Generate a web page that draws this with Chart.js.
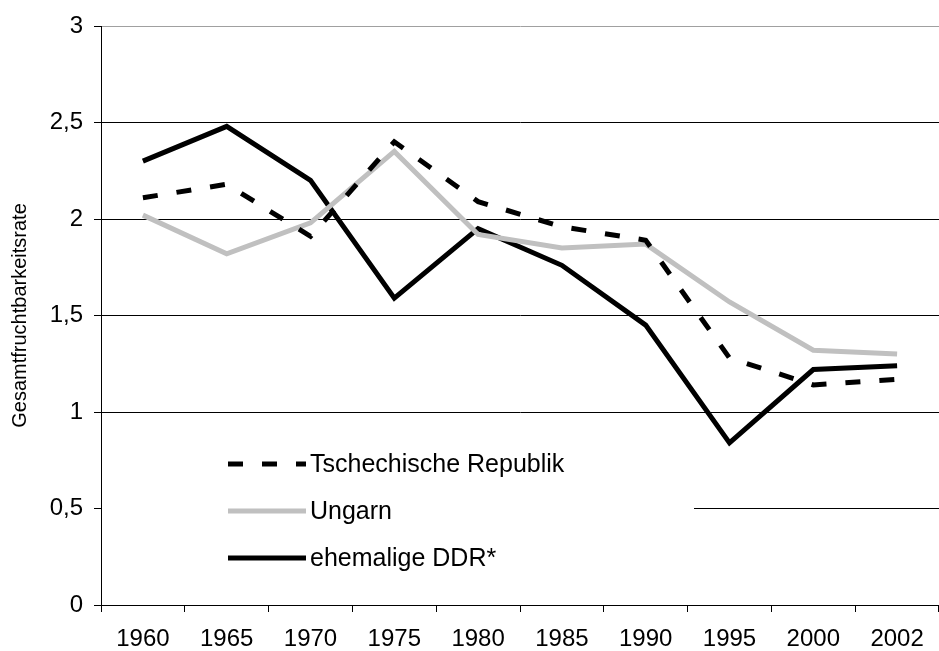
<!DOCTYPE html>
<html lang="de">
<head>
<meta charset="UTF-8">
<title>Gesamtfruchtbarkeitsrate</title>
<script src="https://cdn.jsdelivr.net/npm/chart.js"></script>
<style>
  body { margin: 0; background: #fff; }
</style>
</head>
<body>
<canvas id="grafik" width="939" height="651"></canvas>
<script>
const jahre = ["1960","1965","1970","1975","1980","1985","1990","1995","2000","2002"];
const tschechien = [2.11, 2.18, 1.91, 2.40, 2.09, 1.96, 1.89, 1.28, 1.14, 1.17];
const ungarn = [2.02, 1.82, 1.98, 2.35, 1.92, 1.85, 1.87, 1.57, 1.32, 1.30];
const ddr = [2.30, 2.48, 2.20, 1.59, 1.95, 1.76, 1.45, 0.84, 1.22, 1.24];
const yTicks = [0, 0.5, 1, 1.5, 2, 2.5, 3];

const FONT = "'Liberation Sans', Arial, sans-serif";

// Legende innerhalb der Zeichenfläche, mit weißem Hintergrund
const legendeInnen = {
  id: 'legendeInnen',
  beforeDatasetsDraw(chart) {
    const c = chart.ctx;
    c.save();
    c.fillStyle = '#fff';
    c.fillRect(102, 449, 592, 140);
    chart.data.datasets.forEach((ds, i) => {
      const y = 464 + i * 47;
      c.beginPath();
      c.strokeStyle = ds.borderColor;
      c.lineWidth = ds.borderWidth;
      c.setLineDash(ds.borderDash || []);
      c.moveTo(228, y);
      c.lineTo(306, y);
      c.stroke();
      c.setLineDash([]);
      c.fillStyle = '#000';
      c.font = '25px ' + FONT;
      c.textBaseline = 'middle';
      c.textAlign = 'left';
      c.fillText(ds.label, 310, y + 1);
    });
    c.restore();
  }
};

new Chart(document.getElementById('grafik'), {
  type: 'line',
  data: {
    labels: jahre,
    datasets: [
      { label: 'Tschechische Republik', data: tschechien, borderColor: '#000', borderWidth: 5, borderDash: [15, 19], pointRadius: 0, tension: 0 },
      { label: 'Ungarn', data: ungarn, borderColor: '#c0c0c0', borderWidth: 5, pointRadius: 0, tension: 0 },
      { label: 'ehemalige DDR*', data: ddr, borderColor: '#000', borderWidth: 5, pointRadius: 0, tension: 0 }
    ]
  },
  options: {
    responsive: false,
    animation: false,
    layout: { padding: { top: 26, right: 0, bottom: 0, left: 0 } },
    plugins: { legend: { display: false }, tooltip: { enabled: false } },
    scales: {
      x: {
        offset: true,
        grid: { offset: true, drawOnChartArea: false, drawTicks: true, tickLength: 7, color: '#000' },
        border: { color: '#000', width: 1 },
        ticks: { color: '#000', font: { family: FONT, size: 24 }, padding: 13, maxRotation: 0 },
        afterFit(s) { s.height = 46; }
      },
      y: {
        min: 0,
        max: 3,
        afterBuildTicks(s) { s.ticks = yTicks.map(v => ({ value: v })); },
        grid: {
          color: ctx => ctx.tick && ctx.tick.value === 3 ? '#a0a0a0' : '#000',
          tickColor: '#000',
          tickLength: 7,
          lineWidth: 1
        },
        border: { color: '#000', width: 1 },
        ticks: {
          color: '#000',
          font: { family: FONT, size: 24 },
          padding: 11,
          callback: v => String(v).replace('.', ',')
        },
        title: {
          display: true,
          text: 'Gesamtfruchtbarkeitsrate',
          color: '#000',
          font: { family: FONT, size: 20 },
          padding: { top: 8, bottom: 0 }
        },
        afterFit(s) { s.width = 101; }
      }
    }
  },
  plugins: [legendeInnen]
});
</script>
</body>
</html>
